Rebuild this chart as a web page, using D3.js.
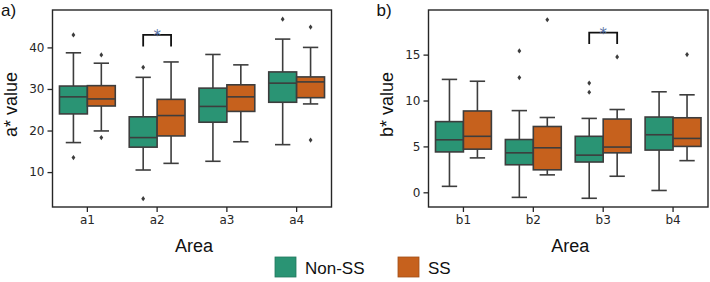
<!DOCTYPE html>
<html>
<head>
<meta charset="utf-8">
<script src="https://cdn.jsdelivr.net/npm/d3@7"></script>
<style>
  html, body { margin: 0; padding: 0; background: #fff; }
  svg { display: block; }
  .tick text { font-family: "DejaVu Sans", sans-serif; font-size: 12px; fill: #262626; }
  .lbl { font-family: "Liberation Sans", Arial, sans-serif; fill: #111; }
</style>
</head>
<body>
<div id="chart"></div>
<script>
// ---- data ----
var groups = ["Non-SS", "SS"];
var colors = ["#2a9474", "#c6611d"];

var areasA = ["a1", "a2", "a3", "a4"];
// each stat: [Non-SS, SS] per area
var aWhiskLo = [[17.1, 19.9], [10.5, 12.1], [12.6, 17.3], [16.6, 26.4]];
var aQ1      = [[24.0, 25.9], [16.0, 18.7], [22.0, 24.6], [26.8, 27.9]];
var aMedian  = [[28.1, 27.6], [18.3, 23.6], [25.8, 28.1], [31.4, 31.7]];
var aQ3      = [[30.7, 30.8], [23.3, 27.5], [30.2, 31.0], [34.1, 32.9]];
var aWhiskHi = [[38.7, 36.2], [32.8, 36.5], [38.3, 35.8], [42.0, 40.0]];
var aFliers  = [[[43.0, 13.5], [38.2, 18.3]], [[35.2, 3.6], []], [[], []], [[46.8], [44.9, 17.7]]];
var aTicks = [10, 20, 30, 40];

var areasB = ["b1", "b2", "b3", "b4"];
var bWhiskLo = [[0.65, 3.75], [-0.55, 1.9], [-0.65, 1.75], [0.2, 3.45]];
var bQ1      = [[4.4, 4.7], [3.0, 2.45], [3.3, 4.3], [4.6, 5.0]];
var bMedian  = [[5.72, 6.1], [4.3, 4.85], [4.05, 4.93], [6.27, 5.87]];
var bQ3      = [[7.7, 8.86], [5.75, 7.17], [6.1, 7.98], [8.2, 8.12]];
var bWhiskHi = [[12.3, 12.1], [8.9, 8.15], [8.05, 9.02], [10.95, 10.62]];
var bFliers  = [[[], []], [[15.4, 12.5], [18.8]], [[11.9, 10.9], [14.75]], [[], [15.0]]];
var bTicks = [0, 5, 10, 15];

var W = 710, H = 282;
var edge = "#3d3d3d";

var svg = d3.select("#chart").append("svg")
    .attr("width", W).attr("height", H);
svg.append("rect").attr("width", W).attr("height", H).attr("fill", "#fff");

function drawPanel(p) {
    var x = d3.scaleBand().domain(p.cats).range([p.left, p.right]).padding(0);
    var y = d3.scaleLinear().domain(p.domain).range([p.bottom, p.top]);
    var bw = x.bandwidth() * 0.8 / 2;   // width of one box
    var g = svg.append("g");

    p.cats.forEach(function (c, i) {
        groups.forEach(function (gr, k) {
            var x0 = x(c) + x.bandwidth() * 0.1 + k * bw;
            var cx = x0 + bw / 2;
            var cap = bw * 0.55;
            var bx = g.append("g");
            // whiskers
            bx.append("line").attr("x1", cx).attr("x2", cx)
                .attr("y1", y(p.q3[i][k])).attr("y2", y(p.hi[i][k]));
            bx.append("line").attr("x1", cx).attr("x2", cx)
                .attr("y1", y(p.q1[i][k])).attr("y2", y(p.lo[i][k]));
            bx.append("line").attr("x1", cx - cap / 2).attr("x2", cx + cap / 2)
                .attr("y1", y(p.hi[i][k])).attr("y2", y(p.hi[i][k]));
            bx.append("line").attr("x1", cx - cap / 2).attr("x2", cx + cap / 2)
                .attr("y1", y(p.lo[i][k])).attr("y2", y(p.lo[i][k]));
            bx.selectAll("line").attr("stroke", edge).attr("stroke-width", 1.6);
            // box
            bx.append("rect")
                .attr("x", x0).attr("width", bw)
                .attr("y", y(p.q3[i][k]))
                .attr("height", y(p.q1[i][k]) - y(p.q3[i][k]))
                .attr("fill", colors[k]).attr("stroke", edge).attr("stroke-width", 1.6);
            bx.append("line").attr("x1", x0).attr("x2", x0 + bw)
                .attr("y1", y(p.med[i][k])).attr("y2", y(p.med[i][k]))
                .attr("stroke", edge).attr("stroke-width", 1.6);
            // outliers
            bx.selectAll("path.fl").data(p.fl[i][k]).enter().append("path")
                .attr("class", "fl")
                .attr("d", function (v) {
                    var yy = y(v);
                    return "M" + cx + "," + (yy - 2.6) + "L" + (cx + 1.9) + "," + yy +
                        "L" + cx + "," + (yy + 2.6) + "L" + (cx - 1.9) + "," + yy + "Z";
                })
                .attr("fill", edge);
        });
    });

    // significance bracket
    var i = p.cats.indexOf(p.sig.cat);
    var xa = x(p.cats[i]) + x.bandwidth() * 0.1 + bw / 2;
    var xb = xa + bw;
    g.append("path")
        .attr("d", "M" + xa + "," + y(p.sig.low) + "V" + y(p.sig.top) + "H" + xb + "V" + y(p.sig.low))
        .attr("fill", "none").attr("stroke", "#111").attr("stroke-width", 1.8);
    g.append("text").attr("x", (xa + xb) / 2).attr("y", y(p.sig.top) + 6)
        .attr("text-anchor", "middle")
        .style("font-family", "DejaVu Sans, sans-serif").style("font-size", "15px")
        .attr("fill", "#5470a4").text("*");

    // axes
    var ax = svg.append("g").attr("transform", "translate(0," + p.bottom + ")")
        .call(d3.axisBottom(x).tickSize(5).tickPadding(3));
    var ay = svg.append("g").attr("transform", "translate(" + p.left + ",0)")
        .call(d3.axisLeft(y).tickValues(p.ticks).tickSize(5).tickPadding(3));
    [ax, ay].forEach(function (a) {
        a.select(".domain").remove();
        a.selectAll(".tick line").attr("stroke", "#262626").attr("stroke-width", 1.3);
    });
    svg.append("rect")
        .attr("x", p.left).attr("y", p.top)
        .attr("width", p.right - p.left).attr("height", p.bottom - p.top)
        .attr("fill", "none").attr("stroke", "#262626").attr("stroke-width", 1.4);

    // labels
    svg.append("text").attr("class", "lbl")
        .attr("x", (p.left + p.right) / 2 + 2).attr("y", 252)
        .attr("text-anchor", "middle").style("font-size", "18px").text("Area");
    svg.append("text").attr("class", "lbl")
        .attr("transform", "translate(" + p.ylabX + "," + ((p.top + p.bottom) / 2 - 4) + ") rotate(-90)")
        .attr("text-anchor", "middle").style("font-size", "18px").text(p.ylabel);
    svg.append("text").attr("class", "lbl")
        .attr("x", p.tagX).attr("y", 16).style("font-size", "17px").text(p.tag);
}

drawPanel({
    cats: areasA, left: 52.5, right: 331.5, top: 10, bottom: 207,
    domain: [1.6, 49.0], ticks: aTicks,
    lo: aWhiskLo, q1: aQ1, med: aMedian, q3: aQ3, hi: aWhiskHi, fl: aFliers,
    sig: { cat: "a2", top: 43.0, low: 40.2 },
    ylabel: "a* value", ylabX: 17, tag: "a)", tagX: 1
});
drawPanel({
    cats: areasB, left: 428.5, right: 708, top: 10, bottom: 207,
    domain: [-1.6, 19.86], ticks: bTicks,
    lo: bWhiskLo, q1: bQ1, med: bMedian, q3: bQ3, hi: bWhiskHi, fl: bFliers,
    sig: { cat: "b3", top: 17.4, low: 16.15 },
    ylabel: "b* value", ylabX: 393, tag: "b)", tagX: 376.5
});

// legend
var leg = svg.append("g");
var legX = [275, 398];
groups.forEach(function (gr, k) {
    leg.append("rect").attr("x", legX[k]).attr("y", 257).attr("width", 21).attr("height", 20)
        .attr("fill", colors[k]).attr("stroke", d3.color(colors[k]).darker(0.6)).attr("stroke-width", 0.8);
    leg.append("text").attr("class", "lbl")
        .attr("x", legX[k] + 30).attr("y", 274).style("font-size", "17px").text(gr);
});
</script>
</body>
</html>
